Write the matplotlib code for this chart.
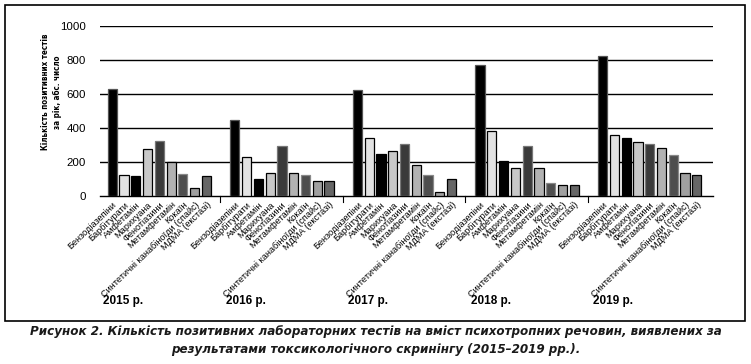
import os
import matplotlib
matplotlib.use("Agg")
import matplotlib.pyplot as plt
from matplotlib.patches import Rectangle
from matplotlib import font_manager as fm

years = ["2015 р.", "2016 р.", "2017 р.", "2018 р.", "2019 р."]
categories = ["Бензодіазепіни", "Барбітурати", "Амфетамін", "Марихуана",
              "Фенотіазини", "Метамфетамін", "Кокаїн",
              "Синтетичні канабіноїди (спайс)", "МДМА (екстазі)"]
values = {
    "2015 р.": [630, 125, 120, 275, 325, 200, 130, 50, 115],
    "2016 р.": [445, 228, 100, 134, 295, 134, 122, 89, 89],
    "2017 р.": [622, 342, 250, 262, 304, 184, 123, 26, 100],
    "2018 р.": [770, 382, 204, 164, 294, 164, 79, 62, 62],
    "2019 р.": [824, 360, 340, 318, 304, 282, 240, 136, 125],
}
fills = ["#000000", "#e2e2e2", "#000000", "#c8c8c8", "#3a3a3a",
         "#b2b2b2", "#4e4e4e", "#a0a0a0", "#666666"]
edges = ["#555555", "#000000", "#000000", "#000000", "#777777",
         "#000000", "#888888", "#000000", "#000000"]
yticks = [0, 200, 400, 600, 800, 1000]
ylabel_text = "Кількість позитивних тестів\nза рік, абс. число"
caption_lines = ["Рисунок 2. Кількість позитивних лабораторних тестів на вміст психотропних речовин, виявлених за",
                 "результатами токсикологічного скринінгу (2015–2019 рр.)."]

FILES = {os.path.basename(f.fname).lower(): f.fname
         for f in fm.fontManager.ttflist}


def font_by_file(candidates, family, weight='normal', style='normal'):
    for c in candidates:
        if c.lower() in FILES:
            return fm.FontProperties(fname=FILES[c.lower()]), True
    return fm.FontProperties(family=family, weight=weight, style=style), False


f_reg, _ = font_by_file(["LiberationSans-Regular.ttf"], "Liberation Sans")
f_bold, _ = font_by_file(["LiberationSans-Bold.ttf"], "Liberation Sans", weight='bold')
f_nbold, narrow_ok = font_by_file(["LiberationSansNarrow-Bold.ttf",
                                   "DejaVuSansCondensed-Bold.ttf",
                                   "OpenSans-CondBold.ttf",
                                   "OpenSans_Condensed-Bold.ttf",
                                   "RobotoCondensed-Bold.ttf"],
                                  "Liberation Sans", weight='bold')
if not narrow_ok:
    f_nbold = f_bold
f_nbi, _ = font_by_file(["LiberationSansNarrow-BoldItalic.ttf",
                         "DejaVuSansCondensed-BoldOblique.ttf",
                         "OpenSans_Condensed-BoldItalic.ttf",
                         "RobotoCondensed-BoldItalic.ttf",
                         "LiberationSans-BoldItalic.ttf"], "Liberation Sans",
                        weight='bold', style='italic')

W, H = 751, 364
fig = plt.figure(figsize=(W / 100, H / 100), dpi=100)
renderer = fig.canvas.get_renderer()


def fit(t, target, dim='width'):
    t.set_fontsize(10)
    bb = t.get_window_extent(renderer)
    cur = bb.width if dim == 'width' else bb.height
    t.set_fontsize(10 * target / cur)
    return 10 * target / cur


ax = fig.add_axes([100 / W, 1 - 196 / H, 613 / W, 170 / H])

group_w = 10
xs, labels = [], []
for g, yr in enumerate(years):
    for i, cat in enumerate(categories):
        x = g * group_w + 1 + i * 0.96
        ax.bar(x, values[yr][i], width=0.75, color=fills[i],
               edgecolor=edges[i], linewidth=0.9, zorder=3)
        xs.append(x)
        labels.append(cat)

ax.set_xlim(0, 5 * group_w)
ax.set_ylim(0, 1000)
for s in ['top', 'right', 'left']:
    ax.spines[s].set_visible(False)
ax.spines['bottom'].set_linewidth(1.0)
for v in yticks[1:]:
    ax.axhline(v, color='black', linewidth=1.0, zorder=1)

probe = fig.text(0, 0, "1000", fontproperties=f_reg)
ytick_fs = fit(probe, 25.5)
probe.remove()
ax.set_yticks(yticks)
ax.set_yticklabels([str(v) for v in yticks], fontproperties=f_reg,
                   fontsize=ytick_fs)
ax.tick_params(axis='y', length=0, pad=10)

probe = fig.text(0, 0, categories[7], fontproperties=f_reg)
xtick_fs = fit(probe, 133)
probe.remove()
ax.set_xticks(xs)
ax.set_xticklabels(labels, rotation=44, ha='right', rotation_mode='anchor',
                   fontproperties=f_reg, fontsize=xtick_fs)
ax.tick_params(axis='x', length=0, pad=3)

for g in range(1, 5):
    ax.plot([g * group_w - 0.2] * 2, [0, -35], color='black', lw=0.8,
            clip_on=False)

probe = fig.text(0, 0, years[0], fontproperties=f_bold)
year_fs = fit(probe, 40)
probe.remove()
for g, yr in enumerate(years):
    ax.text(g * group_w + 0.25, -0.62, yr, transform=ax.get_xaxis_transform(),
            fontproperties=f_bold, fontsize=year_fs, ha='left', va='center')

yl = fig.text(51.5 / W, 1 - 92 / H, ylabel_text, rotation=90,
              ha='center', va='center', multialignment='center',
              fontproperties=f_nbold, linespacing=1.3)
fit(yl, 114 if narrow_ok else 126, dim='height')

fig.patches.append(Rectangle((5 / W, 1 - 321 / H), 740 / W, 316 / H,
                             transform=fig.transFigure, fill=False,
                             edgecolor='black', linewidth=1.2))

t1 = fig.text(0.5, 1 - 332 / H, caption_lines[0], ha='center', va='center',
              fontproperties=f_nbi, color='#1a1a1a')
cap_fs = fit(t1, 690)
fig.text(0.5, 1 - 349 / H, caption_lines[1], ha='center', va='center',
         fontproperties=f_nbi, fontsize=cap_fs, color='#1a1a1a')

fig.savefig("out.png", dpi=100)
